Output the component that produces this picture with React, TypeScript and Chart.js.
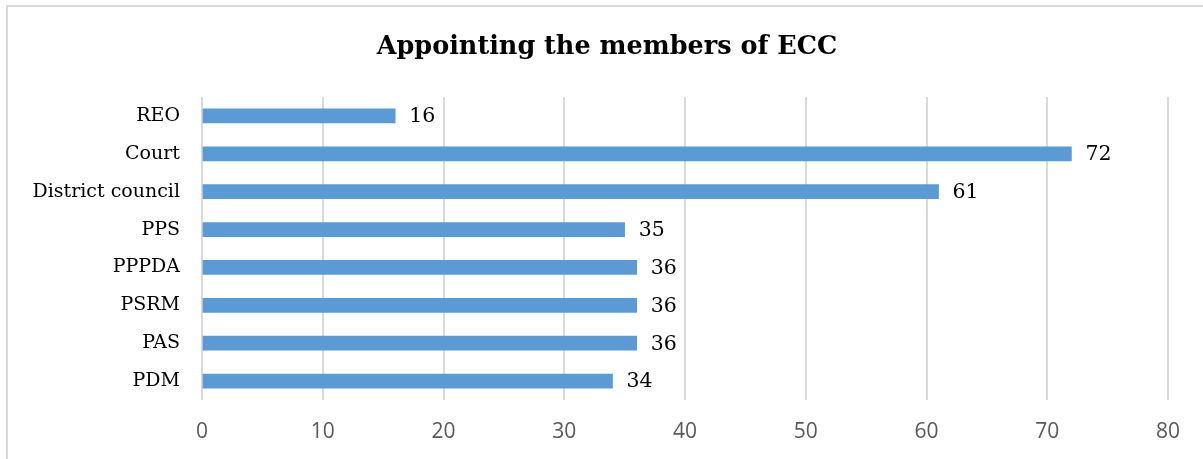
import React, { useEffect, useRef } from "react";
import { Chart, registerables } from "chart.js";

Chart.register(...registerables);

const categories = ["REO", "Court", "District council", "PPS", "PPPDA", "PSRM", "PAS", "PDM"];
const values = [16, 72, 61, 35, 36, 36, 36, 34];
const xTicks = [0, 10, 20, 30, 40, 50, 60, 70, 80];
const title = "Appointing the members of ECC";

const W = 1203;
const H = 459;
const PLOT_LEFT = 202;
const PLOT_RIGHT = 1168;
const PLOT_TOP = 97;
const PLOT_BOTTOM = 400;

const decorPlugin = {
  id: "decor",
  beforeDraw(chart: any) {
    const ctx = chart.ctx;
    ctx.save();
    ctx.fillStyle = "#ffffff";
    ctx.fillRect(0, 0, W, H);
    ctx.strokeStyle = "#D9D9D9";
    ctx.lineWidth = 2;
    ctx.strokeRect(7, 6, 1400, 800);
    ctx.restore();
  },
  afterDraw(chart: any) {
    const ctx = chart.ctx;
    ctx.save();
    ctx.fillStyle = "#000000";
    ctx.font = "bold 25.5px 'DejaVu Serif'";
    ctx.textAlign = "center";
    ctx.textBaseline = "middle";
    ctx.fillText(title, 607, 47);
    const meta = chart.getDatasetMeta(0);
    ctx.font = "20.5px 'DejaVu Serif'";
    ctx.textAlign = "left";
    ctx.fillStyle = "#000000";
    meta.data.forEach((bar: any, i: number) => {
      ctx.fillText(String(values[i]), bar.x + 14, bar.y + 1);
    });
    ctx.restore();
  },
};

export default function App() {
  const ref = useRef<HTMLCanvasElement>(null);
  useEffect(() => {
    document.body.style.margin = "0";
    const chart = new Chart(ref.current!, {
      type: "bar",
      data: {
        labels: categories,
        datasets: [
          {
            data: values,
            backgroundColor: "#5B9BD5",
            borderWidth: 0,
            barThickness: 14,
          },
        ],
      },
      options: {
        indexAxis: "y",
        responsive: false,
        animation: false,
        layout: { padding: { left: 0, right: W - PLOT_RIGHT, top: PLOT_TOP, bottom: 0 } },
        plugins: { legend: { display: false }, title: { display: false }, tooltip: { enabled: false } },
        scales: {
          x: {
            min: 0,
            max: 80,
            afterBuildTicks(scale: any) {
              scale.ticks = xTicks.map((v) => ({ value: v }));
            },
            afterFit(scale: any) {
              scale.height = H - PLOT_BOTTOM;
            },
            grid: { color: "#D9D9D9", lineWidth: 2, drawTicks: false },
            border: { display: false },
            ticks: {
              padding: 19,
              color: "#595959",
              font: { family: "'Open Sans'", size: 21 },
            },
          },
          y: {
            afterFit(scale: any) {
              scale.width = PLOT_LEFT;
            },
            grid: { display: false, drawTicks: false },
            border: { display: false },
            ticks: {
              padding: 22,
              color: "#000000",
              font: { family: "'DejaVu Serif'", size: 19 },
            },
          },
        },
      },
      plugins: [decorPlugin],
    });
    return () => chart.destroy();
  }, []);
  return <canvas ref={ref} width={W} height={H} style={{ display: "block" }} />;
}
